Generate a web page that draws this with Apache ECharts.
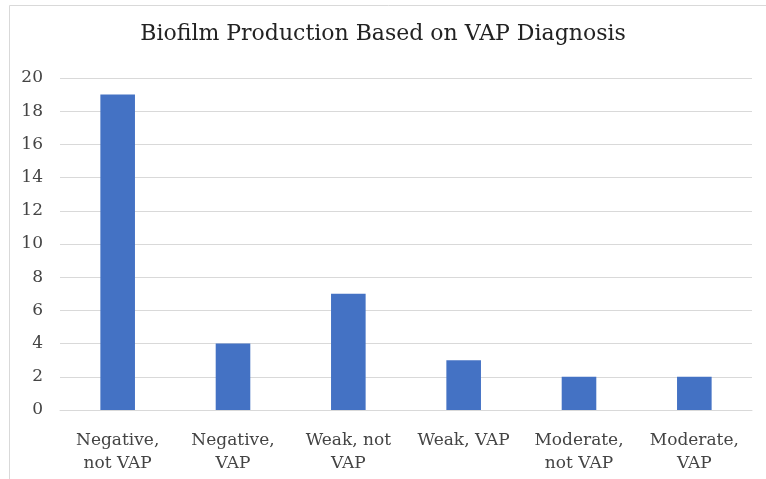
<!DOCTYPE html>
<html>
<head>
<meta charset="utf-8">
<script src="https://cdn.jsdelivr.net/npm/echarts@6/dist/echarts.min.js"></script>
<style>
  html, body { margin: 0; padding: 0; background: #fff; }
  #chart { width: 766px; height: 479px; }
</style>
</head>
<body>
<div id="chart"></div>
<script>
// categories and counts
var categories = ['Negative,\nnot VAP', 'Negative,\nVAP', 'Weak, not\nVAP', 'Weak, VAP', 'Moderate,\nnot VAP', 'Moderate,\nVAP'];
var counts = [19, 4, 7, 3, 2, 2];

var font = '"DejaVu Serif", "Liberation Serif", serif';
var chart = echarts.init(document.getElementById('chart'));
chart.setOption({
  backgroundColor: '#fff',
  animation: false,
  // thin frame like the original chart area
  graphic: [{
    type: 'rect',
    shape: { x: 9.5, y: 5.5, width: 760, height: 500 },
    style: { fill: 'none', stroke: '#d9d9d9', lineWidth: 1 },
    silent: true
  }],
  title: {
    text: 'Biofilm Production Based on VAP Diagnosis',
    left: 'center',
    top: 18,
    textStyle: { fontFamily: font, fontSize: 22, fontWeight: 'normal', color: '#222' }
  },
  grid: { left: 60, right: 14, top: 78, bottom: 69, containLabel: false },
  xAxis: {
    type: 'category',
    data: categories,
    axisLine: { show: true, lineStyle: { color: '#d9d9d9' } },
    axisTick: { show: false },
    axisLabel: {
      interval: 0,
      margin: 19,
      fontFamily: font,
      fontSize: 17,
      lineHeight: 23,
      color: '#444'
    }
  },
  yAxis: {
    type: 'value',
    min: 0,
    max: 20,
    interval: 2,
    axisLine: { show: false },
    axisTick: { show: false },
    splitLine: { lineStyle: { color: '#d9d9d9' } },
    axisLabel: { fontFamily: font, fontSize: 17, color: '#444', margin: 17 }
  },
  series: [{
    type: 'bar',
    data: counts,
    barWidth: '30%',
    itemStyle: { color: '#4472c4' }
  }]
});
</script>
</body>
</html>
